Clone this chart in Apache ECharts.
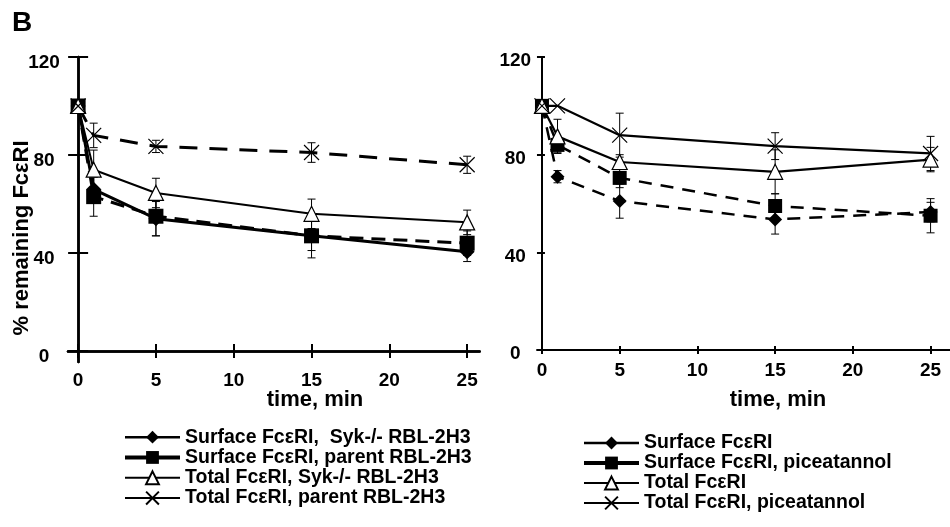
<!DOCTYPE html>
<html>
<head>
<meta charset="utf-8">
<script src="https://cdn.jsdelivr.net/npm/echarts@6/dist/echarts.min.js"></script>
<style>html,body{margin:0;padding:0;background:#fff}#c{width:950px;height:527px}</style>
</head>
<body>
<div id="c"></div>
<script>
const times = [0, 1, 5, 15, 25];
const xTicks = [0, 5, 10, 15, 20, 25];
const yTicks = [0, 40, 80, 120];

// Left panel
const leftNames = ['Surface FcεRI,  Syk-/- RBL-2H3', 'Surface FcεRI, parent RBL-2H3', 'Total FcεRI, Syk-/- RBL-2H3', 'Total FcεRI, parent RBL-2H3'];
const leftSykSurface = [100, 66, 54, 47, 40.5];
const leftSykSurfaceErr = [0, 5, 7, 6, 4];
const leftParentSurface = [100, 63, 55, 47, 44];
const leftParentSurfaceErr = [0, 8, 8, 9, 5];
const leftSykTotal = [100, 74, 64.5, 56, 52.5];
const leftSykTotalErr = [0, 8, 6, 6, 5];
const leftParentTotal = [100, 88, 83.5, 81, 76];
const leftParentTotalErr = [0, 5, 2.5, 4, 3.5];

// Right panel
const rightNames = ['Surface FcεRI', 'Surface FcεRI, piceatannol', 'Total FcεRI', 'Total FcεRI, piceatannol'];
const rightSurface = [100, 71, 61, 53.5, 56.5];
const rightSurfaceErr = [0, 2.5, 7, 6, 4];
const rightPiceSurface = [100, 84, 70.5, 59, 55];
const rightPiceSurfaceErr = [0, 3, 4, 5, 7];
const rightTotal = [100, 87.5, 77, 73, 78];
const rightTotalErr = [0, 7, 3, 9, 5];
const rightPiceTotal = [100, 100, 88, 83.5, 80.5];
const rightPiceTotalErr = [0, 0, 9, 5.5, 7];

const FONT = '"Liberation Sans", Arial, sans-serif';
const pts = v => times.map((t, i) => [t, v[i]]);
const errs = (v, e) => times.map((t, i) => [t, v[i] - e[i], v[i] + e[i]]).filter((d, i) => e[i] > 0);
const XSYM = 'path://M0,0L20,20M20,0L0,20';

function errSeries(v, e, gi) {
  return {
    type: 'custom', xAxisIndex: gi * 2, yAxisIndex: gi * 2, z: 1,
    data: errs(v, e), silent: true,
    renderItem: function (params, api) {
      const x = api.value(0), lo = api.value(1), hi = api.value(2);
      const a = api.coord([x, lo]), b = api.coord([x, hi]);
      const w = 4, st = { stroke: '#000', lineWidth: 1 };
      return { type: 'group', children: [
        { type: 'line', shape: { x1: a[0], y1: a[1], x2: b[0], y2: b[1] }, style: st },
        { type: 'line', shape: { x1: a[0] - w, y1: a[1], x2: a[0] + w, y2: a[1] }, style: st },
        { type: 'line', shape: { x1: b[0] - w, y1: b[1], x2: b[0] + w, y2: b[1] }, style: st }
      ] };
    }
  };
}

function lineSeries(name, v, gi, sym, size, lw, dash, fill) {
  return {
    name: name, type: 'line', xAxisIndex: gi * 2, yAxisIndex: gi * 2, z: 3,
    data: pts(v), symbol: sym, symbolSize: size, showSymbol: true,
    lineStyle: { color: '#000', width: lw, type: dash || 'solid' },
    itemStyle: { color: fill, borderColor: '#000', borderWidth: (fill === '#000' ? 0 : 1.2) },
    emphasis: { disabled: true }, animation: false
  };
}

function xAxes(gi, min, max, lw, tl, margin) {
  const base = {
    gridIndex: gi, type: 'value', min: min, max: max, position: 'bottom',
    axisLine: { onZero: true, lineStyle: { color: '#000', width: lw } },
    splitLine: { show: false }
  };
  return [
    Object.assign({}, base, {
      axisTick: { customValues: xTicks, length: tl, lineStyle: { color: '#000', width: 2 } },
      axisLabel: { customValues: xTicks, margin: margin, fontSize: 19, fontWeight: 'bold', color: '#000', fontFamily: FONT }
    }),
    Object.assign({}, base, {
      axisTick: { customValues: xTicks, inside: true, length: tl, lineStyle: { color: '#000', width: 2 } },
      axisLabel: { show: false }
    })
  ];
}
function yAxes(gi, min, max, lw, tlOut, tlIn, margin, shift) {
  const base = {
    gridIndex: gi, type: 'value', min: min, max: max, position: 'left',
    axisLine: { onZero: true, lineStyle: { color: '#000', width: lw } },
    splitLine: { show: false }
  };
  return [
    Object.assign({}, base, {
      axisTick: { customValues: yTicks, length: tlOut, lineStyle: { color: '#000', width: 2 } },
      axisLabel: {
        customValues: yTicks, margin: margin, align: 'center', color: '#000',
        formatter: '{a|{value}}',
        rich: { a: { padding: [shift, 0, 0, 0], fontSize: 19, fontWeight: 'bold', color: '#000', fontFamily: FONT } }
      }
    }),
    Object.assign({}, base, {
      axisTick: { customValues: yTicks, inside: true, length: tlIn, lineStyle: { color: '#000', width: 2 } },
      axisLabel: { show: false }
    })
  ];
}

const legendBase = {
  orient: 'vertical', itemWidth: 55, itemHeight: 16, itemGap: 0, padding: 0,
  textStyle: { fontSize: 19.5, fontWeight: 'bold', color: '#000', fontFamily: FONT, lineHeight: 20.3 },
  selectedMode: false
};
const legItem = (name, w) => ({ name: name, lineStyle: { color: '#000', width: w, type: 'solid' } });

const chart = echarts.init(document.getElementById('c'), null, { renderer: 'canvas' });
chart.setOption({
  animation: false,
  backgroundColor: '#fff',
  title: { text: 'B', left: 12, top: 9, padding: 0, textStyle: { fontSize: 28, fontWeight: 'bold', color: '#000', fontFamily: FONT } },
  grid: [
    { left: 68, top: 57, width: 411.6, height: 305 },
    { left: 537.3, top: 57, width: 413, height: 296 }
  ],
  xAxis: [].concat(xAxes(0, -0.65, 25.8, 2.5, 7, 9), xAxes(1, -0.3, 26.25, 2, 4, 8)),
  yAxis: [].concat(yAxes(0, -4.5, 120, 2.5, 10, 10, 24, 12), yAxes(1, -1.2, 120, 2, 5, 3, 22, 8)),
  legend: [
    Object.assign({}, legendBase, { data: [legItem(leftNames[0], 2.5), legItem(leftNames[1], 4), legItem(leftNames[2], 1.8), legItem(leftNames[3], 2)], left: 123, top: 427 }),
    Object.assign({}, legendBase, { data: [legItem(rightNames[0], 2.5), legItem(rightNames[1], 4), legItem(rightNames[2], 1.8), legItem(rightNames[3], 2)], left: 582, top: 433, textStyle: Object.assign({}, legendBase.textStyle, { lineHeight: 19 }) })
  ],
  graphic: [
    { type: 'text', x: 22, y: 238, rotation: Math.PI / 2, style: { text: '% remaining FcεRI', font: 'bold 22px ' + FONT, fill: '#000', textAlign: 'center', textVerticalAlign: 'middle' } },
    { type: 'text', x: 315, y: 400, style: { text: 'time, min', font: 'bold 22px ' + FONT, fill: '#000', textAlign: 'center', textVerticalAlign: 'middle' } },
    { type: 'text', x: 778, y: 400, style: { text: 'time, min', font: 'bold 22px ' + FONT, fill: '#000', textAlign: 'center', textVerticalAlign: 'middle' } }
  ],
  series: [
    errSeries(leftSykSurface, leftSykSurfaceErr, 0),
    errSeries(leftParentSurface, leftParentSurfaceErr, 0),
    errSeries(leftSykTotal, leftSykTotalErr, 0),
    errSeries(leftParentTotal, leftParentTotalErr, 0),
    lineSeries(leftNames[0], leftSykSurface, 0, 'diamond', 15, 3, 'solid', '#000'),
    lineSeries(leftNames[1], leftParentSurface, 0, 'rect', 15, 3, [14, 8], '#000'),
    lineSeries(leftNames[2], leftSykTotal, 0, 'triangle', 15, 2, 'solid', '#fff'),
    lineSeries(leftNames[3], leftParentTotal, 0, XSYM, 15, 3, [18, 12], 'none'),
    errSeries(rightSurface, rightSurfaceErr, 1),
    errSeries(rightPiceSurface, rightPiceSurfaceErr, 1),
    errSeries(rightTotal, rightTotalErr, 1),
    errSeries(rightPiceTotal, rightPiceTotalErr, 1),
    lineSeries(rightNames[0], rightSurface, 1, 'diamond', 14, 2.5, [13, 9], '#000'),
    lineSeries(rightNames[1], rightPiceSurface, 1, 'rect', 14, 2.5, [13, 9], '#000'),
    lineSeries(rightNames[2], rightTotal, 1, 'triangle', 15, 2.2, 'solid', '#fff'),
    lineSeries(rightNames[3], rightPiceTotal, 1, XSYM, 15, 2.2, 'solid', 'none')
  ]
});
</script>
</body>
</html>
